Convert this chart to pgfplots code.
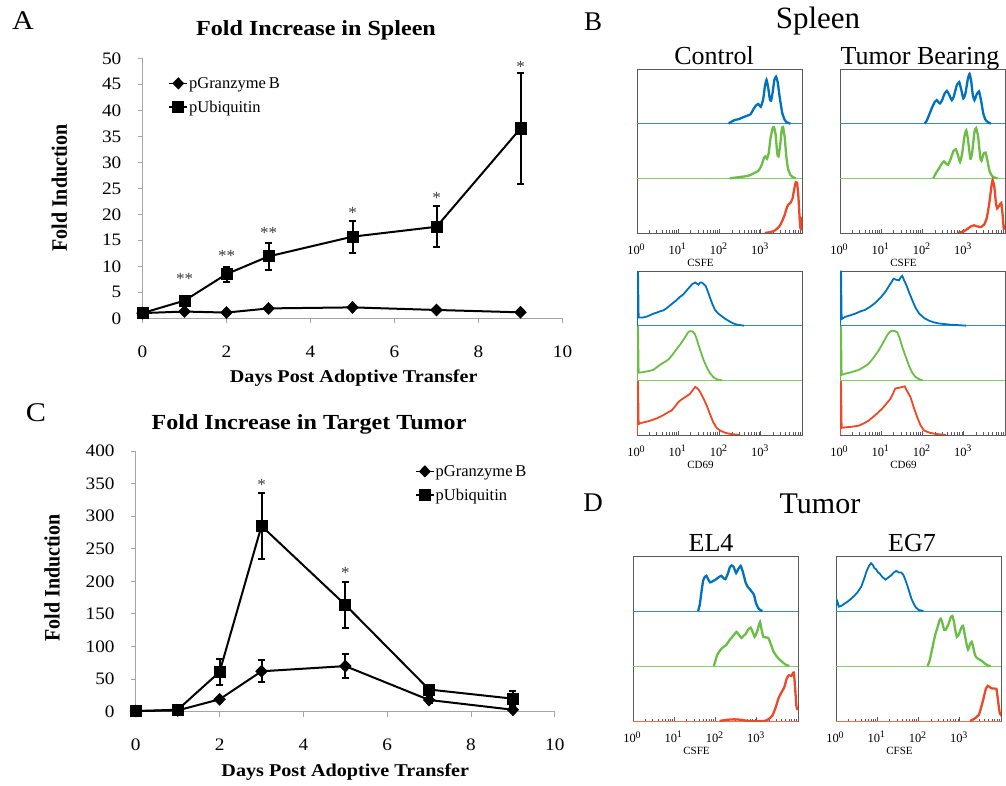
\documentclass[border=0pt]{standalone}
\usepackage{fontspec}
\setmainfont{Liberation Serif}
\usepackage{graphicx}
\usepackage{pgfplots}
\pgfplotsset{compat=1.18}
\newcommand\fs[1]{\fontsize{#1pt}{#1pt}\selectfont}
\newcommand\hs[1]{\scalebox{1.12}[1]{#1}}
\newcommand\dec[1]{10\kern-0.3pt\raisebox{4.5pt}{\fs{10}#1}}
\definecolor{hblue}{RGB}{0,114,189}
\definecolor{hgreen}{RGB}{106,190,69}
\definecolor{hred}{RGB}{237,73,39}
\definecolor{axgray}{RGB}{165,165,165}
\definecolor{stargray}{RGB}{60,60,60}
\pgfplotsset{
  lineax/.style={scale only axis, anchor=south west, xmin=0, xmax=10,
    axis x line*=bottom, axis y line*=left,
    axis line style={axgray, line width=0.9pt},
    tick style={axgray, line width=0.9pt}, tick align=outside, major tick length=5pt,
    xtick={0,2,...,10},
    xticklabel={\scalebox{1.1}[1]{\pgfmathprintnumber[assume math mode=true]{\tick}}},
    yticklabel={\scalebox{1.1}[1]{\pgfmathprintnumber[assume math mode=true]{\tick}}},
    xticklabel style={font=\fs{17.5}, anchor=center, inner sep=0pt, yshift=-28pt},
    yticklabel style={font=\fs{17.5}, anchor=east, inner sep=0pt, xshift=-16pt},
    legend style={draw=none, fill=none, font=\fs{16.5}, inner sep=0pt, row sep=9pt,
      nodes={inner sep=1pt}},
    legend cell align=left,
    legend image code/.code={\draw[##1, mark repeat=2, mark phase=2, line width=1.6pt]
      plot coordinates {(0pt,0pt)(9pt,0pt)(18pt,0pt)};},
  },
  dl/.style={black, line width=2pt},
  gzb/.style={dl, mark=diamond*, mark size=5pt, mark options={solid, xscale=1.3}},
  ubq/.style={dl, mark=square*, mark size=5pt, mark options={solid}},
  ebar/.style={black, line width=2pt, mark=-, mark size=3.5pt, mark options={solid, line width=2pt}, forget plot},
  hist/.style={scale only axis, anchor=south west, width=165pt, height=164pt,
    xmin=0, xmax=4, ymin=0, ymax=3,
    axis line style={black!65, line width=0.9pt}, ytick=\empty,
    xtick={0,1,2,3},
    xticklabels={\dec{0},\dec{1},\dec{2},\dec{3}},
    minor xtick={0.301,0.477,0.602,0.699,0.778,0.845,0.903,0.954,
      1.301,1.477,1.602,1.699,1.778,1.845,1.903,1.954,
      2.301,2.477,2.602,2.699,2.778,2.845,2.903,2.954,
      3.301,3.477,3.602,3.699,3.778,3.845,3.903,3.954},
    xtick pos=left, tick align=inside, major tick length=4pt, minor tick length=2.5pt,
    tick style={black!65, line width=0.6pt},
    xticklabel style={font=\fs{12.5}, anchor=center, inner sep=0pt, yshift=-16pt, xshift=-1pt},
    xlabel style={font=\fs{11}, at={(rel axis cs:0.385,0)}, anchor=center, yshift=-30pt},
  },
  cb/.style={hblue, line width=2.3pt, smooth, tension=0.3},
  cg/.style={hgreen, line width=2.3pt, smooth, tension=0.3},
  cr/.style={hred, line width=2.3pt, smooth, tension=0.3},
  sb/.style={hblue, line width=1.8pt},
  sg/.style={hgreen, line width=1.8pt},
  sr/.style={hred, line width=1.8pt},
  bb/.style={hblue!80, line width=0.8pt},
  bg/.style={hgreen!80, line width=0.8pt},
  br/.style={hred!80, line width=0.8pt},
}
\begin{document}
\begin{tikzpicture}
\path[use as bounding box] (0,0) rectangle (1006pt,785pt);

% ---------------- Panel A ----------------
\begin{axis}[lineax, at={(142.5pt,466.7pt)}, width=420pt, height=260pt,
  ymin=0, ymax=50, ytick={0,5,...,50},
  xlabel={\hs{\textbf{Days Post Adoptive Transfer}}},
  ylabel={\scalebox{1}[1.1]{\textbf{Fold Induction}}},
  xlabel style={font=\fs{18}, at={(rel axis cs:0.503,-0.23)}, anchor=center},
  ylabel style={font=\fs{20}, at={(rel axis cs:-0.198,0.501)}, anchor=center},
  legend style={at={(rel axis cs:0.0614,0.932)}, anchor=north west}]
% error bars of pUbiquitin (mean +/- error)
\addplot[ebar] coordinates {(2,7.05) (2,9.95)};
\addplot[ebar] coordinates {(3,9.3) (3,14.5)};
\addplot[ebar] coordinates {(5,12.65) (5,18.75)};
\addplot[ebar] coordinates {(7,13.65) (7,21.55)};
\addplot[ebar] coordinates {(9,25.9) (9,47.1)};
\addplot[gzb] coordinates {(0,1.0) (1,1.3) (2,1.1) (3,1.9) (5,2.1) (7,1.6) (9,1.15)};
\addlegendentry{pGranzyme\,B}
\addplot[ubq] coordinates {(0,1.0) (1,3.4) (2,8.5) (3,11.9) (5,15.7) (7,17.6) (9,36.5)};
\addlegendentry{pUbiquitin}
\begin{scope}[every node/.style={font=\fs{17}, text=stargray, anchor=base, yshift=-8.5pt}]
\node at (axis cs:1,8.1) {**};
\node at (axis cs:2,12.5) {**};
\node at (axis cs:3,17.0) {**};
\node at (axis cs:5,20.8) {*};
\node at (axis cs:7,23.7) {*};
\node at (axis cs:9,49.0) {*};
\end{scope}
\end{axis}

% ---------------- Panel C ----------------
\begin{axis}[lineax, at={(135.8pt,73.3pt)}, width=419pt, height=260.7pt,
  ymin=0, ymax=400, ytick={0,50,...,400},
  xlabel={\hs{\textbf{Days Post Adoptive Transfer}}},
  ylabel={\scalebox{1}[1.1]{\textbf{Fold Induction}}},
  xlabel style={font=\fs{18}, at={(rel axis cs:0.5,-0.23)}, anchor=center},
  ylabel style={font=\fs{20}, at={(rel axis cs:-0.2,0.513)}, anchor=center},
  legend style={at={(rel axis cs:0.666,0.95)}, anchor=north west}]
% error bars of pGranzyme B
\addplot[ebar] coordinates {(3,45) (3,79)};
\addplot[ebar] coordinates {(5,52) (5,88)};
\addplot[ebar] coordinates {(7,13) (7,23)};
% error bars of pUbiquitin
\addplot[ebar] coordinates {(2,41) (2,81)};
\addplot[ebar] coordinates {(3,235) (3,335)};
\addplot[ebar] coordinates {(5,129) (5,199)};
\addplot[ebar] coordinates {(7,28) (7,40)};
\addplot[ebar] coordinates {(9,9) (9,31)};
\addplot[gzb] coordinates {(0,1) (1,2) (2,19) (3,62) (5,70) (7,18) (9,3)};
\addlegendentry{pGranzyme\,B}
\addplot[ubq] coordinates {(0,1) (1,3) (2,61) (3,285) (5,164) (7,34) (9,20)};
\addlegendentry{pUbiquitin}
\begin{scope}[every node/.style={font=\fs{17}, text=stargray, anchor=base, yshift=-8.5pt}]
\node at (axis cs:3,353) {*};
\node at (axis cs:5,218) {*};
\end{scope}
\end{axis}

% ---------------- Panel B: Control CSFE ----------------
\begin{axis}[hist, at={(637pt,552pt)}, xlabel={CSFE}]
\addplot[bb] coordinates {(0,2)(4,2)};
\addplot[bg] coordinates {(0,1)(4,1)};
\addplot[br] coordinates {(0,0)(4,0)};
\addplot[cb] coordinates {(2.22,2)(2.30,2.04)(2.38,2.07)(2.46,2.08)(2.55,2.11)(2.65,2.14)(2.75,2.17)(2.82,2.26)(2.88,2.33)(2.94,2.36)(3.00,2.31)(3.06,2.45)(3.10,2.68)(3.14,2.80)(3.18,2.66)(3.22,2.45)(3.25,2.42)(3.29,2.58)(3.33,2.80)(3.37,2.86)(3.41,2.76)(3.46,2.48)(3.52,2.20)(3.58,2.07)(3.64,2.02)(3.72,2.0)};
\addplot[cg] coordinates {(2.25,1)(2.45,1.02)(2.65,1.04)(2.75,1.06)(2.85,1.10)(2.93,1.13)(2.98,1.18)(3.03,1.26)(3.08,1.38)(3.11,1.40)(3.15,1.36)(3.19,1.45)(3.24,1.75)(3.29,1.92)(3.32,1.94)(3.36,1.80)(3.40,1.45)(3.43,1.40)(3.47,1.60)(3.51,1.90)(3.54,1.94)(3.58,1.75)(3.62,1.40)(3.66,1.18)(3.72,1.06)(3.78,1.02)(3.85,1.0)};
\addplot[cr] coordinates {(3.10,0)(3.25,0.02)(3.35,0.05)(3.45,0.12)(3.52,0.22)(3.58,0.33)(3.63,0.46)(3.67,0.52)(3.72,0.55)(3.77,0.63)(3.81,0.80)(3.85,0.93)(3.88,0.92)(3.91,0.70)(3.94,0.30)(3.96,0.10)(3.98,0.07)(4.0,0.3)};
\end{axis}

% ---------------- Panel B: Tumor Bearing CSFE ----------------
\begin{axis}[hist, at={(840pt,552pt)}, xlabel={CSFE}]
\addplot[bb] coordinates {(0,2)(4,2)};
\addplot[bg] coordinates {(0,1)(4,1)};
\addplot[br] coordinates {(0,0)(4,0)};
\addplot[cb] coordinates {(2.05,2)(2.10,2.05)(2.16,2.16)(2.24,2.31)(2.30,2.40)(2.34,2.43)(2.38,2.40)(2.42,2.37)(2.47,2.42)(2.53,2.54)(2.59,2.60)(2.64,2.54)(2.71,2.43)(2.76,2.50)(2.83,2.70)(2.89,2.76)(2.94,2.62)(2.99,2.46)(3.04,2.55)(3.10,2.82)(3.14,2.91)(3.18,2.78)(3.22,2.52)(3.26,2.43)(3.31,2.53)(3.37,2.59)(3.42,2.42)(3.47,2.20)(3.52,2.08)(3.58,2.03)(3.66,2.0)};
\addplot[cg] coordinates {(2.26,1)(2.33,1.10)(2.40,1.18)(2.46,1.26)(2.52,1.31)(2.57,1.27)(2.62,1.25)(2.68,1.35)(2.75,1.50)(2.81,1.53)(2.86,1.42)(2.91,1.30)(2.96,1.45)(3.02,1.78)(3.06,1.88)(3.10,1.72)(3.16,1.36)(3.20,1.45)(3.26,1.85)(3.30,1.92)(3.35,1.75)(3.40,1.38)(3.43,1.32)(3.48,1.45)(3.53,1.47)(3.58,1.30)(3.63,1.12)(3.69,1.04)(3.76,1.01)(3.82,1.0)};
\addplot[cr] coordinates {(2.85,0)(3.0,0.03)(3.10,0.08)(3.17,0.12)(3.25,0.14)(3.33,0.12)(3.42,0.11)(3.50,0.16)(3.56,0.28)(3.62,0.55)(3.67,0.85)(3.70,0.97)(3.74,0.85)(3.78,0.55)(3.81,0.45)(3.86,0.50)(3.91,0.55)(3.94,0.35)(3.97,0.08)(4.0,0.14)};
\end{axis}

% ---------------- Panel B: Control CD69 ----------------
\begin{axis}[hist, at={(637pt,350pt)}, xlabel={CD69}]
\addplot[bb] coordinates {(0,2)(4,2)};
\addplot[bg] coordinates {(0,1)(4,1)};
\addplot[br] coordinates {(0,0)(4,0)};
\addplot[sb] coordinates {(0,2)(0.008,2.98)(0.025,2.98)(0.04,2.15)(0.10,2.15)(0.15,2.15)(0.25,2.17)(0.31,2.19)(0.40,2.22)(0.48,2.24)(0.55,2.26)(0.64,2.28)(0.72,2.32)(0.80,2.37)(0.88,2.42)(0.95,2.46)(1.03,2.52)(1.12,2.57)(1.20,2.64)(1.28,2.71)(1.34,2.76)(1.41,2.79)(1.45,2.77)(1.49,2.75)(1.53,2.79)(1.57,2.79)(1.62,2.76)(1.67,2.72)(1.72,2.62)(1.77,2.51)(1.83,2.39)(1.89,2.29)(1.97,2.22)(2.06,2.17)(2.15,2.12)(2.26,2.07)(2.34,2.04)(2.42,2.02)(2.59,2.0)};
\addplot[sg] coordinates {(0,1)(0.008,1.98)(0.025,1.98)(0.04,1.14)(0.15,1.15)(0.28,1.17)(0.39,1.19)(0.50,1.25)(0.59,1.30)(0.68,1.34)(0.76,1.38)(0.84,1.45)(0.92,1.53)(1.00,1.61)(1.08,1.69)(1.15,1.77)(1.20,1.83)(1.25,1.89)(1.30,1.90)(1.35,1.89)(1.40,1.85)(1.45,1.75)(1.49,1.65)(1.55,1.51)(1.61,1.38)(1.69,1.24)(1.77,1.13)(1.85,1.06)(1.93,1.02)(2.06,1.0)};
\addplot[sr] coordinates {(0,0)(0.008,0.97)(0.025,0.97)(0.04,0.20)(0.10,0.22)(0.15,0.23)(0.27,0.25)(0.39,0.28)(0.50,0.31)(0.63,0.36)(0.74,0.41)(0.84,0.45)(0.92,0.52)(1.00,0.60)(1.08,0.65)(1.16,0.69)(1.22,0.72)(1.28,0.75)(1.34,0.81)(1.41,0.88)(1.47,0.85)(1.53,0.79)(1.61,0.67)(1.69,0.54)(1.77,0.38)(1.85,0.23)(1.93,0.13)(2.02,0.08)(2.14,0.04)(2.26,0.02)(2.50,0.0)};
\end{axis}

% ---------------- Panel B: Tumor Bearing CD69 ----------------
\begin{axis}[hist, at={(840pt,350pt)}, xlabel={CD69}]
\addplot[bb] coordinates {(0,2)(4,2)};
\addplot[bg] coordinates {(0,1)(4,1)};
\addplot[br] coordinates {(0,0)(4,0)};
\addplot[sb] coordinates {(0,2)(0.008,2.99)(0.025,2.99)(0.04,2.12)(0.12,2.16)(0.25,2.19)(0.37,2.22)(0.49,2.26)(0.61,2.29)(0.74,2.35)(0.86,2.42)(0.98,2.51)(1.10,2.62)(1.20,2.74)(1.30,2.86)(1.36,2.84)(1.43,2.83)(1.47,2.88)(1.51,2.91)(1.56,2.82)(1.61,2.74)(1.68,2.60)(1.75,2.47)(1.83,2.33)(1.92,2.22)(2.04,2.14)(2.16,2.09)(2.28,2.06)(2.40,2.04)(2.65,2.02)(3.06,2.0)};
\addplot[sg] coordinates {(0,1)(0.008,1.97)(0.025,1.97)(0.04,1.10)(0.12,1.12)(0.28,1.15)(0.45,1.19)(0.57,1.24)(0.69,1.30)(0.81,1.41)(0.94,1.55)(1.04,1.68)(1.14,1.82)(1.20,1.88)(1.26,1.91)(1.33,1.90)(1.39,1.88)(1.45,1.76)(1.51,1.61)(1.59,1.44)(1.67,1.27)(1.75,1.14)(1.83,1.06)(1.92,1.02)(2.00,1.0)};
\addplot[sr] coordinates {(0,0)(0.008,0.97)(0.025,0.97)(0.04,0.13)(0.12,0.14)(0.28,0.15)(0.45,0.17)(0.57,0.21)(0.69,0.26)(0.85,0.36)(1.02,0.48)(1.12,0.57)(1.22,0.66)(1.28,0.75)(1.34,0.85)(1.40,0.86)(1.47,0.87)(1.52,0.88)(1.57,0.89)(1.63,0.80)(1.71,0.69)(1.79,0.50)(1.87,0.33)(1.95,0.18)(2.04,0.08)(2.18,0.04)(2.32,0.02)(2.57,0.0)};
\end{axis}

% ---------------- Panel D: EL4 ----------------
\begin{axis}[hist, at={(633pt,64pt)}, height=165pt, xlabel={CSFE}]
\addplot[bb] coordinates {(0,2)(4,2)};
\addplot[bg] coordinates {(0,1)(4,1)};
\addplot[br] coordinates {(0,0)(4,0)};
\addplot[cb] coordinates {(1.58,2)(1.62,2.12)(1.66,2.35)(1.70,2.55)(1.74,2.62)(1.78,2.64)(1.82,2.58)(1.87,2.52)(1.93,2.54)(2.00,2.57)(2.07,2.61)(2.14,2.64)(2.19,2.60)(2.24,2.58)(2.30,2.68)(2.35,2.80)(2.39,2.83)(2.44,2.80)(2.50,2.69)(2.55,2.76)(2.61,2.82)(2.66,2.72)(2.73,2.52)(2.78,2.44)(2.83,2.40)(2.88,2.35)(2.93,2.30)(2.98,2.15)(3.03,2.06)(3.08,2.02)(3.14,2.0)};
\addplot[cg] coordinates {(1.96,1)(2.00,1.10)(2.04,1.20)(2.08,1.25)(2.14,1.31)(2.20,1.35)(2.26,1.38)(2.32,1.45)(2.37,1.50)(2.43,1.55)(2.51,1.62)(2.57,1.56)(2.63,1.51)(2.68,1.55)(2.73,1.58)(2.79,1.66)(2.85,1.70)(2.90,1.62)(2.95,1.53)(3.01,1.63)(3.05,1.74)(3.08,1.80)(3.12,1.65)(3.16,1.53)(3.22,1.52)(3.28,1.51)(3.34,1.40)(3.40,1.27)(3.46,1.20)(3.52,1.14)(3.58,1.10)(3.64,1.06)(3.71,1.02)(3.79,1.0)};
\addplot[cr] coordinates {(2.1,0)(2.25,0.02)(2.45,0.03)(2.65,0.02)(2.80,0)(3.18,0)(3.28,0.03)(3.38,0.10)(3.46,0.25)(3.53,0.42)(3.60,0.52)(3.67,0.62)(3.73,0.78)(3.78,0.83)(3.84,0.82)(3.87,0.86)(3.90,0.88)(3.93,0.60)(3.96,0.28)(3.98,0.22)(4.0,0.23)};
\end{axis}

% ---------------- Panel D: EG7 ----------------
\begin{axis}[hist, at={(836pt,64pt)}, height=165pt, xlabel={CFSE}]
\addplot[bb] coordinates {(0,2)(4,2)};
\addplot[bg] coordinates {(0,1)(4,1)};
\addplot[br] coordinates {(0,0)(4,0)};
\addplot[sb] coordinates {(0,2)(0.005,2.22)(0.03,2.18)(0.07,2.08)(0.12,2.09)(0.20,2.13)(0.28,2.17)(0.36,2.22)(0.45,2.28)(0.53,2.35)(0.61,2.44)(0.68,2.58)(0.74,2.72)(0.80,2.82)(0.85,2.87)(0.89,2.84)(0.93,2.78)(0.97,2.76)(1.02,2.70)(1.06,2.68)(1.12,2.62)(1.20,2.57)(1.27,2.61)(1.34,2.65)(1.40,2.70)(1.46,2.73)(1.52,2.70)(1.58,2.70)(1.63,2.66)(1.68,2.57)(1.73,2.46)(1.78,2.34)(1.83,2.22)(1.88,2.14)(1.93,2.07)(2.00,2.02)(2.12,2.0)};
\addplot[cg] coordinates {(2.22,1)(2.27,1.10)(2.32,1.27)(2.37,1.45)(2.41,1.58)(2.46,1.70)(2.51,1.83)(2.54,1.86)(2.58,1.78)(2.62,1.66)(2.66,1.66)(2.72,1.75)(2.78,1.88)(2.82,1.91)(2.86,1.80)(2.90,1.62)(2.93,1.53)(2.98,1.58)(3.04,1.70)(3.08,1.73)(3.12,1.58)(3.17,1.38)(3.20,1.30)(3.25,1.40)(3.29,1.44)(3.33,1.33)(3.37,1.20)(3.41,1.15)(3.47,1.12)(3.54,1.09)(3.60,1.05)(3.68,1.01)(3.75,1.0)};
\addplot[cr] coordinates {(3.25,0)(3.35,0.04)(3.46,0.11)(3.52,0.25)(3.58,0.42)(3.63,0.58)(3.68,0.64)(3.72,0.62)(3.78,0.59)(3.85,0.59)(3.89,0.58)(3.92,0.42)(3.94,0.30)(3.97,0.14)(3.99,0.12)(4.0,0.14)};
\end{axis}

% ---------------- Texts ----------------
\node[anchor=base, font=\fs{27}] at (23pt,755pt) {\hs{A}};
\node[anchor=base, font=\bfseries\fs{21.5}] at (316pt,749pt) {\hs{Fold Increase in Spleen}};
\node[anchor=base, font=\fs{27}] at (36pt,363.3pt) {\hs{C}};
\node[anchor=base, font=\bfseries\fs{21.5}] at (309pt,355pt) {\hs{Fold Increase in Target Tumor}};
\node[anchor=base, font=\fs{27}] at (593pt,754pt) {B};
\node[anchor=base, font=\fs{31}] at (818pt,756.7pt) {Spleen};
\node[anchor=base, font=\fs{26}] at (714pt,720pt) {Control};
\node[anchor=base, font=\fs{26}] at (920pt,720pt) {Tumor Bearing};
\node[anchor=base, font=\fs{27}] at (593pt,273.3pt) {D};
\node[anchor=base, font=\fs{30}] at (820pt,271.7pt) {Tumor};
\node[anchor=base, font=\fs{26}] at (711pt,233.3pt) {EL4};
\node[anchor=base, font=\fs{26}] at (912pt,233.3pt) {EG7};
\end{tikzpicture}
\end{document}
